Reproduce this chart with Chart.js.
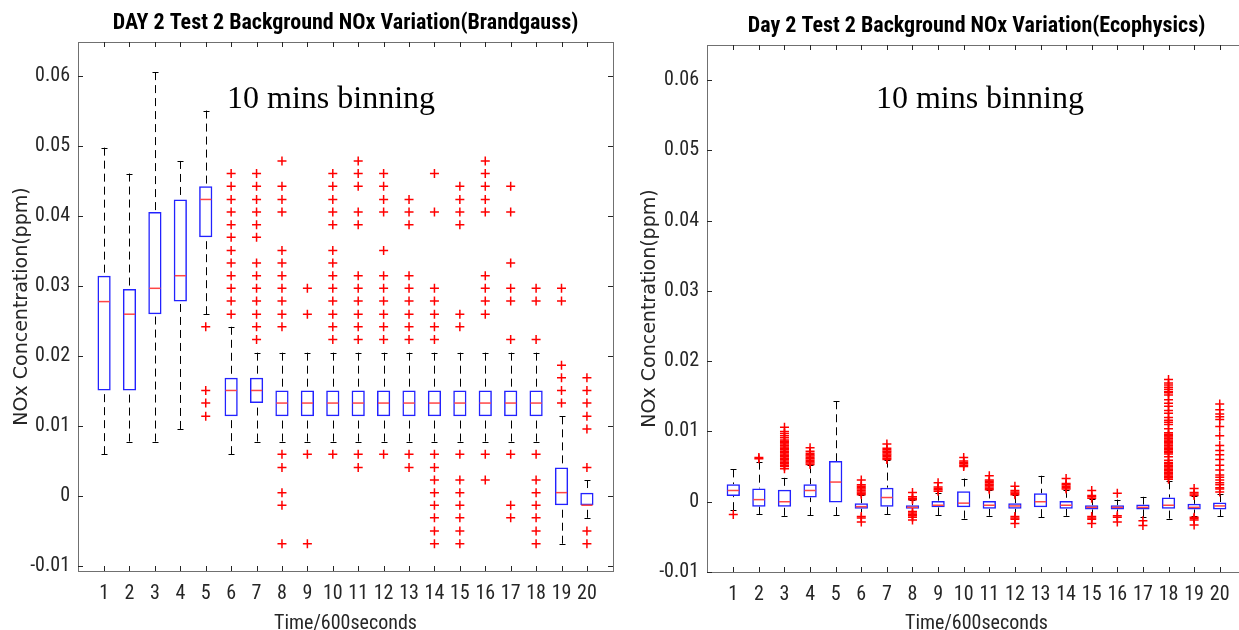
<!DOCTYPE html>
<html>
<head>
<meta charset="utf-8">
<title>Day 2 Test 2 Background NOx Variation</title>
<script src="https://cdn.jsdelivr.net/npm/chart.js@4.4.1/dist/chart.umd.min.js"></script>
<style>
    html, body { margin: 0; padding: 0; background: #fff; overflow: hidden; }
    body { width: 1239px; height: 630px; position: relative; }
    #brandgauss { position: absolute; left: 0; top: 0; }
    #ecophysics { position: absolute; left: 620px; top: 0; }
</style>
</head>
<body>
<canvas id="brandgauss" width="620" height="630"></canvas>
<canvas id="ecophysics" width="640" height="630"></canvas>
<script>
// Time bins (x) and y tick values
const categories = [1, 2, 3, 4, 5, 6, 7, 8, 9, 10, 11, 12, 13, 14, 15, 16, 17, 18, 19, 20];
const yTicks = [-0.01, 0, 0.01, 0.02, 0.03, 0.04, 0.05, 0.06];

// Brandgauss box stats
const bgHigh   = [0.0498, 0.0461, 0.0606, 0.0479, 0.0551, 0.0242, 0.0205, 0.0205, 0.0205, 0.0205, 0.0205, 0.0205, 0.0205, 0.0205, 0.0205, 0.0205, 0.0205, 0.0205, 0.0114, 0.0023];
const bgQ3     = [0.0315, 0.0296, 0.0406, 0.0424, 0.0443, 0.0169, 0.0169, 0.0151, 0.0151, 0.0151, 0.0151, 0.0151, 0.0151, 0.0151, 0.0151, 0.0151, 0.0151, 0.0151, 0.0041, 0.0005];
const bgMedian = [0.0278, 0.0260, 0.0297, 0.0315, 0.0424, 0.0151, 0.0151, 0.0133, 0.0133, 0.0133, 0.0133, 0.0133, 0.0133, 0.0133, 0.0133, 0.0133, 0.0133, 0.0133, 0.0005, -0.0013];
const bgQ1     = [0.0151, 0.0151, 0.0260, 0.0278, 0.0370, 0.0114, 0.0133, 0.0114, 0.0114, 0.0114, 0.0114, 0.0114, 0.0114, 0.0114, 0.0114, 0.0114, 0.0114, 0.0114, -0.0013, -0.0013];
const bgLow    = [0.0060, 0.0078, 0.0078, 0.0096, 0.0260, 0.0060, 0.0078, 0.0078, 0.0078, 0.0078, 0.0078, 0.0078, 0.0078, 0.0078, 0.0078, 0.0078, 0.0078, 0.0078, -0.0068, -0.0031];
const bgOutliers = [
    [],
    [],
    [],
    [],
    [0.0242, 0.0151, 0.0133, 0.0114],
    [0.0461, 0.0443, 0.0424, 0.0406, 0.0388, 0.0370, 0.0351, 0.0333, 0.0315, 0.0297, 0.0279, 0.0260],
    [0.0461, 0.0443, 0.0424, 0.0406, 0.0388, 0.0370, 0.0333, 0.0315, 0.0297, 0.0279, 0.0260, 0.0242, 0.0224],
    [0.0479, 0.0443, 0.0424, 0.0406, 0.0351, 0.0333, 0.0315, 0.0297, 0.0279, 0.0260, 0.0242, 0.0060, 0.0041, 0.0005, -0.0013, -0.0068],
    [0.0297, 0.0260, 0.0060, -0.0068],
    [0.0461, 0.0443, 0.0424, 0.0406, 0.0388, 0.0351, 0.0333, 0.0315, 0.0297, 0.0279, 0.0260, 0.0242, 0.0224, 0.0060],
    [0.0479, 0.0461, 0.0443, 0.0406, 0.0388, 0.0315, 0.0297, 0.0279, 0.0260, 0.0242, 0.0224, 0.0060, 0.0041],
    [0.0461, 0.0443, 0.0424, 0.0406, 0.0351, 0.0315, 0.0297, 0.0279, 0.0260, 0.0242, 0.0224, 0.0060],
    [0.0424, 0.0406, 0.0388, 0.0315, 0.0297, 0.0279, 0.0260, 0.0242, 0.0224, 0.0060, 0.0041],
    [0.0461, 0.0406, 0.0297, 0.0279, 0.0260, 0.0242, 0.0224, 0.0060, 0.0041, 0.0023, 0.0005, -0.0013, -0.0031, -0.0050, -0.0068],
    [0.0443, 0.0424, 0.0406, 0.0388, 0.0260, 0.0242, 0.0060, 0.0023, 0.0005, -0.0013, -0.0031, -0.0050, -0.0068],
    [0.0479, 0.0461, 0.0443, 0.0424, 0.0406, 0.0315, 0.0297, 0.0279, 0.0260, 0.0060, 0.0023],
    [0.0443, 0.0406, 0.0333, 0.0297, 0.0279, 0.0224, 0.0060, -0.0013, -0.0031],
    [0.0297, 0.0279, 0.0224, 0.0060, 0.0023, 0.0005, -0.0013, -0.0031, -0.0050, -0.0068],
    [0.0297, 0.0279, 0.0187, 0.0169, 0.0151, 0.0133],
    [0.0169, 0.0151, 0.0133, 0.0114, 0.0096, 0.0041, -0.0050, -0.0068]
];

// Ecophysics box stats
const epHigh   = [0.0046, 0.0057, 0.0034, 0.0052, 0.0143, 0.0009, 0.0060, 0.0002, 0.0013, 0.0033, 0.0016, 0.0009, 0.0037, 0.0017, 0.0004, 0.0003, 0.0007, 0.0029, 0.0008, 0.0011];
const epQ3     = [0.0025, 0.0019, 0.0017, 0.0025, 0.0058, -0.0002, 0.0020, -0.0005, 0.0001, 0.0015, 0.0001, -0.0002, 0.0012, 0.0001, -0.0005, -0.0005, -0.0004, 0.0006, -0.0003, -0.0001];
const epMedian = [0.0016, 0.0003, 0.0000, 0.0016, 0.0028, -0.0007, 0.0006, -0.0008, -0.0005, -0.0002, -0.0005, -0.0006, 0.0000, -0.0005, -0.0008, -0.0008, -0.0008, -0.0005, -0.0008, -0.0006];
const epQ1     = [0.0008, -0.0007, -0.0007, 0.0006, -0.0001, -0.0010, -0.0007, -0.0010, -0.0008, -0.0008, -0.0010, -0.0010, -0.0008, -0.0010, -0.0011, -0.0011, -0.0011, -0.0010, -0.0011, -0.0011];
const epLow    = [-0.0012, -0.0018, -0.0020, -0.0019, -0.0019, -0.0020, -0.0018, -0.0013, -0.0019, -0.0024, -0.0020, -0.0020, -0.0022, -0.0020, -0.0020, -0.0019, -0.0022, -0.0024, -0.0021, -0.0021];
const epOutliers = [
    [-0.0018],
    [0.0061, 0.0063],
    [0.0047, 0.0050, 0.0052, 0.0054, 0.0056, 0.0058, 0.0060, 0.0062, 0.0064, 0.0066, 0.0068, 0.0070, 0.0072, 0.0074, 0.0076, 0.0078, 0.0080, 0.0082, 0.0084, 0.0086, 0.0088, 0.0091, 0.0094, 0.0097, 0.0100, 0.0106],
    [0.0053, 0.0055, 0.0057, 0.0059, 0.0061, 0.0063, 0.0065, 0.0067, 0.0069, 0.0072, 0.0077],
    [],
    [0.0010, 0.0012, 0.0014, 0.0016, 0.0018, 0.0020, 0.0022, 0.0024, 0.0031, -0.0021, -0.0023, -0.0029],
    [0.0060, 0.0062, 0.0064, 0.0066, 0.0068, 0.0070, 0.0072, 0.0074, 0.0076, 0.0082],
    [0.0003, 0.0005, 0.0007, 0.0013, -0.0014, -0.0016, -0.0018, -0.0020, -0.0022, -0.0026],
    [0.0015, 0.0017, 0.0019, 0.0021, 0.0027],
    [0.0050, 0.0052, 0.0054, 0.0056, 0.0058, 0.0063],
    [0.0017, 0.0019, 0.0021, 0.0023, 0.0025, 0.0027, 0.0029, 0.0031, 0.0037],
    [0.0010, 0.0012, 0.0014, 0.0016, 0.0022, -0.0021, -0.0023, -0.0025, -0.0031],
    [],
    [0.0018, 0.0020, 0.0022, 0.0024, 0.0026, 0.0033],
    [0.0005, 0.0007, 0.0009, 0.0016, -0.0021, -0.0023, -0.0025, -0.0031],
    [0.0012, -0.0020, -0.0022, -0.0029],
    [-0.0027, -0.0034],
    [0.0174, 0.0169, 0.0166, 0.0163, 0.0160, 0.0157, 0.0155, 0.0152, 0.0145, 0.0140, 0.0136, 0.0130, 0.0126, 0.0120, 0.0116, 0.0113, 0.0110, 0.0104,
     0.0098, 0.0096, 0.0094, 0.0092, 0.0090, 0.0088, 0.0086, 0.0084, 0.0082, 0.0080, 0.0078, 0.0076, 0.0074, 0.0072, 0.0070, 0.0068, 0.0064,
     0.0059, 0.0056, 0.0054, 0.0052, 0.0050, 0.0048, 0.0046, 0.0044, 0.0042, 0.0040, 0.0038, 0.0036, 0.0034, 0.0032],
    [0.0009, 0.0011, 0.0013, 0.0019, -0.0022, -0.0024, -0.0026, -0.0033],
    [0.0139, 0.0131, 0.0125, 0.0121, 0.0117, 0.0107, 0.0094, 0.0080, 0.0073, 0.0067, 0.0060, 0.0052, 0.0045, 0.0038, 0.0035, 0.0031, 0.0027, 0.0024, 0.0020, 0.0018, 0.0014]
];

const narrow = "'Liberation Sans Narrow', 'Arial Narrow', 'Roboto Condensed', 'DejaVu Sans Condensed', sans-serif";
const tickColor = "#262626";

// Whiskers (dashed) with caps, then red medians over the boxes
function boxPlugin(stats) {
    return {
        id: "boxWhiskers",
        beforeDatasetsDraw(chart) {
            const { ctx, scales: { x, y } } = chart;
            ctx.save();
            ctx.strokeStyle = "#000";
            ctx.lineWidth = 1;
            categories.forEach((c, i) => {
                const px = Math.round(x.getPixelForValue(c)) + 0.5;
                const hi = y.getPixelForValue(stats.high[i]);
                const lo = y.getPixelForValue(stats.low[i]);
                ctx.setLineDash([8, 5]);
                ctx.beginPath();
                ctx.moveTo(px, hi);
                ctx.lineTo(px, y.getPixelForValue(stats.q3[i]));
                ctx.moveTo(px, lo);
                ctx.lineTo(px, y.getPixelForValue(stats.q1[i]));
                ctx.stroke();
                ctx.setLineDash([]);
                ctx.beginPath();
                ctx.moveTo(px - 3, Math.round(hi) + 0.5);
                ctx.lineTo(px + 3, Math.round(hi) + 0.5);
                ctx.moveTo(px - 3, Math.round(lo) + 0.5);
                ctx.lineTo(px + 3, Math.round(lo) + 0.5);
                ctx.stroke();
            });
            ctx.restore();
        },
        afterDatasetsDraw(chart) {
            const { ctx, scales: { y } } = chart;
            const bars = chart.getDatasetMeta(1).data;
            ctx.save();
            ctx.strokeStyle = "#ff4545";
            ctx.lineWidth = 1.5;
            bars.forEach((bar, i) => {
                const py = y.getPixelForValue(stats.median[i]);
                ctx.beginPath();
                ctx.moveTo(bar.x - bar.width / 2 + 1, py);
                ctx.lineTo(bar.x + bar.width / 2 - 1, py);
                ctx.stroke();
            });
            ctx.restore();
        }
    };
}

// MATLAB style box around the axes with inward ticks, plus the "10 mins binning" note
function framePlugin(note) {
    return {
        id: "axesFrame",
        afterDraw(chart) {
            const { ctx, chartArea: a, scales: { x, y } } = chart;
            ctx.save();
            ctx.strokeStyle = "#707070";
            ctx.lineWidth = 1;
            ctx.strokeRect(Math.round(a.left) + 0.5, Math.round(a.top) + 0.5, Math.round(a.width), Math.round(a.height));
            ctx.strokeStyle = tickColor;
            ctx.beginPath();
            x.ticks.forEach(t => {
                const px = Math.round(x.getPixelForValue(t.value)) + 0.5;
                ctx.moveTo(px, a.bottom); ctx.lineTo(px, a.bottom - 5);
                ctx.moveTo(px, a.top); ctx.lineTo(px, a.top + 5);
            });
            y.ticks.forEach(t => {
                const py = Math.round(y.getPixelForValue(t.value)) + 0.5;
                ctx.moveTo(a.left, py); ctx.lineTo(a.left + 5, py);
                ctx.moveTo(a.right, py); ctx.lineTo(a.right - 5, py);
            });
            ctx.stroke();

            ctx.fillStyle = "#000";
            ctx.font = "32px 'Liberation Serif', 'Times New Roman', serif";
            ctx.textBaseline = "alphabetic";
            ctx.textAlign = "left";
            ctx.fillText("10 mins binning", x.getPixelForValue(note.x), y.getPixelForValue(note.y));
            ctx.restore();
        }
    };
}

function makeChart(canvasId, opt) {
    const outlierPoints = categories.flatMap((c, i) => opt.outliers[i].map(v => ({ x: c, y: v })));
    const boxes = categories.map((c, i) => ({ x: c, y: [opt.q1[i], opt.q3[i]] }));

    return new Chart(document.getElementById(canvasId), {
        type: "bar",
        data: {
            datasets: [
                {
                    type: "scatter",
                    data: outlierPoints,
                    pointStyle: "cross",
                    radius: 4.5,
                    borderColor: "#ff0000",
                    backgroundColor: "#ff0000",
                    borderWidth: 1.5,
                    order: 0
                },
                {
                    type: "bar",
                    data: boxes,
                    borderColor: "#2222ff",
                    backgroundColor: "rgba(255,255,255,0)",
                    borderWidth: 1.5,
                    borderSkipped: false,
                    barPercentage: 0.52,
                    categoryPercentage: 1,
                    order: 1
                }
            ]
        },
        options: {
            responsive: false,
            animation: false,
            events: [],
            layout: { padding: { left: 0, right: opt.padRight, top: 0, bottom: 0 } },
            plugins: {
                legend: { display: false },
                tooltip: { enabled: false },
                title: {
                    display: true,
                    text: opt.title,
                    fullSize: false,
                    color: "#000",
                    font: { family: narrow, size: 22, weight: "bold", lineHeight: 1.2 },
                    padding: { top: opt.titleTop, bottom: 5 }
                }
            },
            scales: {
                x: {
                    type: "linear",
                    min: 0.5,
                    max: 20.5,
                    afterBuildTicks: s => { s.ticks = categories.map(v => ({ value: v })); },
                    afterFit: s => { s.height = opt.xHeight; },
                    grid: { display: false, drawTicks: false },
                    border: { display: false },
                    ticks: {
                        autoSkip: false,
                        maxRotation: 0,
                        minRotation: 0,
                        padding: 11,
                        color: tickColor,
                        font: { family: narrow, size: 20 },
                        callback: v => String(v)
                    },
                    title: {
                        display: true,
                        text: "Time/600seconds",
                        color: tickColor,
                        font: { family: narrow, size: 20, lineHeight: 1 },
                        padding: { top: 0, bottom: -4 }
                    }
                },
                y: {
                    type: "linear",
                    min: opt.yMin,
                    max: opt.yMax,
                    afterBuildTicks: s => { s.ticks = yTicks.map(v => ({ value: v })); },
                    afterFit: s => { s.width = opt.yWidth; },
                    grid: { display: false, drawTicks: false },
                    border: { display: false },
                    ticks: {
                        padding: 8,
                        color: tickColor,
                        font: { family: narrow, size: 20 },
                        callback: v => (v === 0 ? "0" : String(+v.toFixed(2)))
                    },
                    title: {
                        display: true,
                        text: "NOx Concentration(ppm)",
                        color: tickColor,
                        font: { family: "'DejaVu Sans', sans-serif", size: 19, lineHeight: 1.2 },
                        padding: { top: opt.yTitlePad, bottom: 0 }
                    }
                }
            }
        },
        plugins: [
            boxPlugin({ high: opt.high, q3: opt.q3, median: opt.median, q1: opt.q1, low: opt.low }),
            framePlugin(opt.note)
        ]
    });
}

makeChart("brandgauss", {
    title: "DAY 2 Test 2 Background NOx Variation(Brandgauss)",
    high: bgHigh, q3: bgQ3, median: bgMedian, q1: bgQ1, low: bgLow, outliers: bgOutliers,
    yMin: -0.0107, yMax: 0.0649,
    padRight: 7, titleTop: 10.6, xHeight: 59, yWidth: 78, yTitlePad: 10.6,
    note: { x: 5.84, y: 0.0555 }
});

makeChart("ecophysics", {
    title: "Day 2 Test 2 Background NOx Variation(Ecophysics)",
    high: epHigh, q3: epQ3, median: epMedian, q1: epQ1, low: epLow, outliers: epOutliers,
    yMin: -0.01, yMax: 0.065,
    padRight: 14, titleTop: 13.6, xHeight: 58, yWidth: 87, yTitlePad: 18.6,
    note: { x: 6.57, y: 0.056 }
});
</script>
</body>
</html>
